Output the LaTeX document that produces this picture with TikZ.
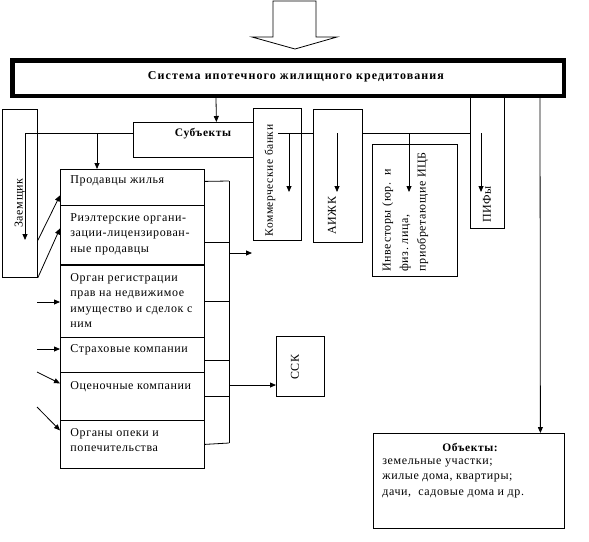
\documentclass[tikz,border=0pt]{standalone}
\usepackage{fontspec}
\setmainfont{Liberation Serif}
\newfontfamily\cellfont[LetterSpace=5]{Liberation Serif}
\newfontfamily\titlefont[LetterSpace=9]{Liberation Serif}
\usetikzlibrary{arrows.meta}

\tikzset{
  cell/.style 2 args={draw, line width=0.8pt, minimum width=#1, minimum height=#2,
    anchor=north west, inner sep=0pt},
  arr/.style={-{Triangle[length=6pt,width=5pt]}},
  txt/.style={font=\fontsize{12}{15.5}\selectfont\cellfont, inner sep=0pt},
  head/.style={font=\fontsize{11.5}{15.5}\selectfont\cellfont\bfseries, inner sep=0pt},
  vtxt/.style={txt, rotate=90, anchor=west}
}

\begin{document}
\begin{tikzpicture}[x=1pt, y=-1pt, line width=0.8pt]
  \useasboundingbox (0,0) rectangle (589,541);
  % big arrow on top
  \draw (273,1) -- (316,1) -- (316,37) -- (337,37) -- (295,49) -- (252,37) -- (273,37) -- cycle;
  \node[draw, line width=4.5pt, minimum width=551.5pt, minimum height=35.5pt, inner sep=0pt] (sys) at (288,78) {};
  \node[head, font=\fontsize{12}{15.5}\selectfont\titlefont\bfseries] (systxt) at (296,77) {Система ипотечного жилищного кредитования};

  % subjects
  \node[cell={120pt}{35pt}] (subj) at (133,122) {};
  \node[head] (subjtxt) at (203,134) {Субъекты};
  \node[cell={35pt}{168pt}] (zaem) at (2,109) {};
  \node[vtxt] (zaemtxt) at (20,228) {Заемщик};
  \node[cell={48pt}{132pt}] (bank) at (253,108) {};
  \node[vtxt, font=\fontsize{11.5}{15.5}\selectfont\cellfont] (banktxt) at (270,237) {Коммерческие банки};
  \node[cell={49pt}{133pt}] (aizk) at (313,109) {};
  \node[vtxt] (aizktxt) at (332,235) {АИЖК};
  \node[cell={85pt}{132pt}] (inv) at (372,144) {};
  \node[txt, rotate=90, anchor=north west, align=left, font=\fontsize{12}{17.5}\selectfont\cellfont] (invtxt) at (382,272)
    {Инвесторы (юр.\ \ и\\физ.\ лица,\\приобретающие ИЦБ};
  \node[cell={34pt}{132pt}] (pif) at (470,96) {};
  \node[vtxt] (piftxt) at (487,223) {ПИФы};

  % participants column
  \node[cell={144pt}{36pt}] (prod) at (60,169) {};
  \node[cell={144pt}{59pt}] (riel) at (60,205) {};
  \node[cell={144pt}{73pt}] (reg) at (60,264) {};
  \node[cell={144pt}{35pt}] (strah) at (60,337) {};
  \node[cell={144pt}{48pt}] (ocen) at (60,372) {};
  \node[cell={144pt}{48pt}] (opek) at (60,420) {};
  \draw[line width=1.6pt] (riel.south west) -- (riel.south east);
  \node[txt, anchor=west] (prodtxt) at (70,181) {Продавцы жилья};
  \node[txt, anchor=north west, align=left] (rieltxt) at (70,213) {Риэлтерские органи-\\зации-лицензирован-\\ные продавцы};
  \node[txt, anchor=north west, align=left] (regtxt) at (70,273) {Орган регистрации\\прав на недвижимое\\имущество и сделок с\\ним};
  \node[txt, anchor=west] (strahtxt) at (70,350) {Страховые компании};
  \node[txt, anchor=west] (ocentxt) at (70,387) {Оценочные компании};
  \node[txt, anchor=north west, align=left] (opektxt) at (70,428) {Органы опеки и\\попечительства};

  \node[cell={48pt}{60pt}] (ssk) at (276,336) {};
  \node[vtxt] (ssktxt) at (295,380) {ССК};

  % objects
  \node[cell={191pt}{95pt}] (obj) at (373,433) {};
  \node[head] (objhead) at (470,447) {Объекты:};
  \node[txt, anchor=north west, align=left] (objtxt) at (382,458) {земельные участки;\\жилые дома, квартиры;\\дачи,\ \ садовые дома и др.};

  % connectors from the system box
  \draw[arr] ([xshift=-72pt]sys.south) -- ([xshift=23pt]subj.north);
  \draw[arr] ([xshift=252pt]sys.south) -- ([xshift=71.5pt]obj.north);

  \coordinate (bl) at (25,133);
  \coordinate (bp) at (97,133);
  \coordinate (zt) at (25,240);
  \draw (subj.west |- bl) -- (bl);
  \draw[arr] (bl) -- (zt);
  \draw[arr] (bp) -- (bp |- prod.north);

  \coordinate (br) at (278,133);
  \coordinate (t1) at (289,192);
  \coordinate (t2) at (337,192);
  \coordinate (t3) at (409,192);
  \coordinate (t4) at (481,192);
  \draw (br) -- (br -| aizk.west);
  \draw (br -| aizk.east) -- (br -| pif.west);
  \foreach \t in {t1,t2,t3,t4}
    \draw[arr] (\t |- br) -- (\t);

  % borrower to sellers
  \draw[arr] ([yshift=-47pt]zaem.east) -- ([yshift=-8pt]prod.west);
  \draw[arr] (zaem.south east) -- ([yshift=6.5pt]riel.west);
  \coordinate (l1) at (37,302);
  \coordinate (l2) at (37,349);
  \coordinate (l3) at (37,372);
  \coordinate (l4) at (37,407);
  \draw[arr] (l1) -- (l1 -| reg.west);
  \draw[arr] (l2) -- (l2 -| strah.west);
  \draw[arr] (l3) -- ([yshift=13pt]ocen.west);
  \draw[arr] (l4) -- ([yshift=14pt]opek.west);

  % right bus of the column
  \coordinate (bt) at (229,181);
  \coordinate (bb) at (229,443);
  \draw ([yshift=6pt]prod.east) -- (bt);
  \draw ([yshift=-7.5pt]riel.east) -- ++(25,0);
  \draw (reg.east) -- ++(25,0);
  \draw ([yshift=-5.5pt]strah.east) -- ++(25,0);
  \draw (ocen.east) -- ++(25,0);
  \draw (opek.east) -- (bb);
  \draw (bt) -- (bb);
  \coordinate (bf) at (229,253);
  \coordinate (bs) at (229,385);
  \draw[arr] (bf) -- ++(23,0);
  \draw[arr] (bs) -- (bs -| ssk.west);
\end{tikzpicture}
\end{document}
